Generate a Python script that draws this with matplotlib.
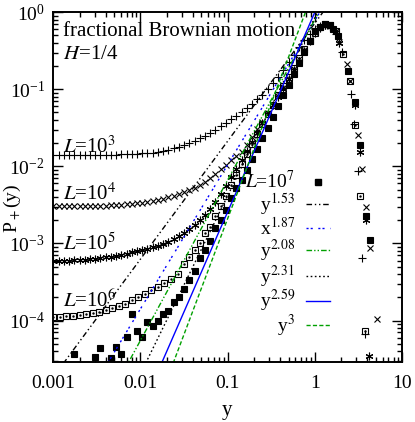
import numpy as np
import matplotlib
matplotlib.use('Agg')
import matplotlib.pyplot as plt
from matplotlib.lines import Line2D
from matplotlib.ticker import FixedLocator, FixedFormatter, LogLocator, LogFormatterMathtext, NullFormatter

plt.rcParams['font.family'] = ['Liberation Serif', 'DejaVu Serif']
plt.rcParams['mathtext.fontset'] = 'stix'

# ---------------- data ----------------
X_GRID = [0.001, 0.00115, 0.00132, 0.00151, 0.00174, 0.00200, 0.00229, 0.00263, 0.00302, 0.00347,
          0.00398, 0.00457, 0.00525, 0.00603, 0.00692, 0.00794, 0.00912, 0.0105, 0.0120, 0.0138,
          0.0158, 0.0182, 0.0209, 0.0240, 0.0275, 0.0316, 0.0363, 0.0417, 0.0479, 0.0550,
          0.0631, 0.0724, 0.0832, 0.0955, 0.110, 0.126, 0.145, 0.166, 0.191, 0.219,
          0.251, 0.288, 0.331, 0.380, 0.437, 0.501, 0.575, 0.661, 0.759, 0.871,
          1.0, 1.15, 1.32, 1.51, 1.74]

P_L3 = [0.0140, 0.0140, 0.0139, 0.0140, 0.0140, 0.0140, 0.0140, 0.0141, 0.0140, 0.0141,
        0.0141, 0.0142, 0.0142, 0.0143, 0.0144, 0.0145, 0.0146, 0.0147, 0.0149, 0.0151,
        0.0154, 0.0158, 0.0164, 0.0172, 0.0180, 0.0191, 0.0202, 0.0216, 0.0232, 0.0251,
        0.0272, 0.0299, 0.0331, 0.0367, 0.0407, 0.0457, 0.0513, 0.0575, 0.0646, 0.0741,
        0.0851, 0.100, 0.120, 0.145, 0.178, 0.224, 0.282, 0.355, 0.437, 0.525,
        0.603, 0.661, 0.692, 0.646, 0.525]
TAIL_X_L3 = [2.03, 2.59, 2.81, 3.15, 3.44, 3.76]
TAIL_P_L3 = [0.302, 0.0875, 0.0359, 0.00879, 6.50e-4, 6.65e-5]

P_L4 = [0.00302, 0.00302, 0.00302, 0.00302, 0.00302, 0.00302, 0.00302, 0.00302, 0.00302, 0.00305,
        0.00309, 0.00313, 0.00316, 0.00320, 0.00324, 0.00327, 0.00333, 0.00339, 0.00347, 0.00355,
        0.00367, 0.00380, 0.00398, 0.00417, 0.00442, 0.00468, 0.00495, 0.00531, 0.00575, 0.00631,
        0.00700, 0.00794, 0.00912, 0.0105, 0.0120, 0.0136, 0.0155, 0.0191, 0.0240, 0.0302,
        0.0380, 0.0490, 0.0631, 0.0813, 0.105, 0.138, 0.182, 0.245, 0.324, 0.437,
        0.562, 0.646, 0.692, 0.661, 0.562]
TAIL_X_L4 = [1.90, 2.31, 2.52, 3.15, 3.44, 3.83, 4.29, 5.12]
TAIL_P_L4 = [0.406, 0.213, 0.130, 0.0254, 0.00923, 0.00293, 8.75e-4, 1.04e-4]

P_L5 = [5.89e-4, 5.89e-4, 5.96e-4, 5.96e-4, 6.03e-4, 6.10e-4, 6.17e-4, 6.24e-4, 6.31e-4, 6.46e-4,
        6.61e-4, 6.76e-4, 6.92e-4, 7.16e-4, 7.41e-4, 7.67e-4, 7.94e-4, 8.22e-4, 8.51e-4, 8.91e-4,
        9.33e-4, 9.89e-4, 1.06e-3, 1.15e-3, 1.26e-3, 1.38e-3, 1.55e-3, 1.74e-3, 2.00e-3, 2.34e-3,
        2.82e-3, 3.47e-3, 4.37e-3, 5.62e-3, 7.24e-3, 9.33e-3, 0.0120, 0.0158, 0.0209, 0.0275,
        0.0363, 0.0479, 0.0617, 0.0794, 0.102, 0.135, 0.178, 0.234, 0.316, 0.417,
        0.537, 0.631, 0.676, 0.661, 0.550]
TAIL_X_L5 = [1.90, 2.88, 3.29, 3.85, 4.21]
TAIL_P_L5 = [0.398, 0.0618, 0.0155, 0.00203, 3.50e-5]

X_L6 = [0.001, 0.00119, 0.00141, 0.00168, 0.00200, 0.00237, 0.00282, 0.00335, 0.00398, 0.00473,
        0.00562, 0.00668, 0.00794, 0.00944, 0.0112, 0.0133, 0.0158, 0.0188, 0.0224, 0.0266,
        0.0316, 0.0363, 0.0417, 0.0479, 0.0550, 0.0631, 0.0724, 0.0832, 0.0955, 0.110,
        0.126, 0.145, 0.166, 0.191, 0.219, 0.251, 0.288, 0.331, 0.380, 0.437,
        0.501, 0.575, 0.661, 0.759, 0.871, 1.0, 1.15, 1.32, 1.51, 1.74,
        2.12, 2.52, 2.88, 3.29, 3.76]
P_L6 = [1.10e-4, 1.11e-4, 1.14e-4, 1.16e-4, 1.19e-4, 1.22e-4, 1.26e-4, 1.30e-4, 1.36e-4, 1.45e-4,
        1.55e-4, 1.66e-4, 1.84e-4, 2.04e-4, 2.24e-4, 2.48e-4, 2.75e-4, 3.05e-4, 3.47e-4, 4.07e-4,
        5.37e-4, 6.61e-4, 8.13e-4, 1.02e-3, 1.35e-3, 1.64e-3, 2.24e-3, 3.05e-3, 4.17e-3, 5.69e-3,
        7.76e-3, 0.0107, 0.0145, 0.0195, 0.0263, 0.0355, 0.0479, 0.0631, 0.0832, 0.110,
        0.145, 0.191, 0.251, 0.331, 0.427, 0.537, 0.646, 0.708, 0.692, 0.562,
        0.287, 0.130, 0.0341, 0.00419, 7.36e-5]

X_L7 = [0.00174, 0.00302, 0.00347, 0.00457, 0.00525, 0.00603, 0.00692, 0.00794, 0.00912, 0.0105,
        0.0120, 0.0138, 0.0158, 0.0182, 0.0209, 0.0240, 0.0275, 0.0316, 0.0363, 0.0417,
        0.0479, 0.0550, 0.0631, 0.0724, 0.0832, 0.0955, 0.110, 0.126, 0.145, 0.166,
        0.191, 0.219, 0.251, 0.288, 0.331, 0.380, 0.437, 0.501, 0.575, 0.661,
        0.759, 0.871, 1.0, 1.15, 1.32, 1.51, 1.62, 1.85, 2.42, 2.89,
        3.29, 3.86, 4.29]
P_L7 = [3.63e-5, 3.39e-5, 4.37e-5, 3.24e-5, 4.57e-5, 3.72e-5, 6.17e-5, 1.20e-4, 7.24e-5, 6.17e-5,
        9.55e-5, 8.51e-5, 1.00e-4, 1.20e-4, 1.35e-4, 1.74e-4, 2.00e-4, 2.57e-4, 3.39e-4, 4.37e-4,
        6.46e-4, 8.32e-4, 1.07e-3, 1.58e-3, 2.04e-3, 2.75e-3, 3.89e-3, 5.25e-3, 6.61e-3, 8.91e-3,
        0.0123, 0.0170, 0.0234, 0.0316, 0.0437, 0.0603, 0.0832, 0.115, 0.158, 0.219,
        0.302, 0.417, 0.562, 0.646, 0.700, 0.684, 0.603, 0.494, 0.175, 0.0684,
        0.0188, 0.00224, 0.00110]

# power laws  P = c * y^a
EXPONENTS = [1.53, 1.87, 2.08, 2.31, 2.59, 3.0]
COEFFS = [0.72, 0.78, 0.80, 0.85, 1.0, 2.1]
LINE_LABELS = [r'y$^{1.53}$', r'x$^{1.87}$', r'y$^{2.08}$', r'y$^{2.31}$', r'y$^{2.59}$', r'y$^{3}$']
LINE_COLORS = ['black', '#0000ff', '#00a000', 'black', '#0000ff', '#00a000']
LINE_DASHES = [(4, 2, 1, 2, 1, 2), (1.5, 1.5, 1.5, 4), (4, 1.5, 1, 1.5, 1, 1.5), (1.2, 1.8), None, (3, 1.6)]
LINE_X = [0.001, 10.0]

XTICKS = [0.001, 0.01, 0.1, 1, 10]
XTICK_LABELS = ['0.001', '0.01', '0.1', '1', '10']

# ---------------- figure ----------------
fig = plt.figure(figsize=(4.15, 4.22), dpi=100)
ax = fig.add_axes([53.3 / 415, 1 - 362 / 422, (402 - 53.3) / 415, (362 - 12.2) / 422])
ax.set_xscale('log')
ax.set_yscale('log')

mk = dict(color='black', linestyle='none', markeredgewidth=0.8)
ax.plot(X_GRID + TAIL_X_L3, P_L3 + TAIL_P_L3, marker='+', ms=6, **mk)
ax.plot(X_GRID + TAIL_X_L4, P_L4 + TAIL_P_L4, marker='x', ms=4.5, **mk)
ax.plot(X_GRID + TAIL_X_L5, P_L5 + TAIL_P_L5, marker=(6, 2, 0), ms=5.5, **mk)
ax.plot(X_L6, P_L6, marker='s', ms=5, mfc='none', **mk)
ax.plot(X_L6, P_L6, marker='.', ms=1.5, color='black', linestyle='none')
ax.plot(X_L7, P_L7, marker='s', ms=5, mfc='black', **mk)

handles = [Line2D([], [], marker='s', ms=5, color='black', linestyle='none')]
labels = [r'$L$=10$^7$']
lx = np.array(LINE_X)
for a, c, lab, col, dsh in zip(EXPONENTS, COEFFS, LINE_LABELS, LINE_COLORS, LINE_DASHES):
    ln, = ax.plot(lx, c * lx ** a, color=col, lw=1.0)
    if dsh is not None:
        ln.set_dashes(dsh)
    handles.append(ln)
    labels.append(lab)

ax.set_xlim(0.001, 10)
ax.set_ylim(2.9e-5, 1)

ax.xaxis.set_major_locator(FixedLocator(XTICKS))
ax.xaxis.set_major_formatter(FixedFormatter(XTICK_LABELS))
ax.xaxis.set_minor_locator(LogLocator(base=10, subs=np.arange(2, 10), numticks=20))
ax.xaxis.set_minor_formatter(NullFormatter())
ax.yaxis.set_major_locator(LogLocator(base=10, numticks=20))
ax.yaxis.set_major_formatter(LogFormatterMathtext())
ax.yaxis.set_minor_locator(LogLocator(base=10, subs=np.arange(2, 10), numticks=20))
ax.yaxis.set_minor_formatter(NullFormatter())

ax.tick_params(which='both', direction='in', top=True, right=True, width=1.0, labelsize=14)
ax.tick_params(which='major', length=7, pad=6)
ax.tick_params(axis='x', which='major', pad=9)
ax.tick_params(which='minor', length=3.5)
for s in ax.spines.values():
    s.set_linewidth(1.4)

ax.set_xlabel('y', fontsize=15, va='center')
ax.set_ylabel(r'P$_+$(y)', fontsize=14, va='center')
ax.xaxis.set_label_coords(0.497, -0.14)
ax.yaxis.set_label_coords(-0.116, 0.44)

def pxt(x, y, s):
    ax.annotate(s, xy=(x, 422 - y), xycoords='figure pixels', fontsize=15)
pxt(63, 36, 'fractional Brownian motion')
pxt(63, 59, r'$H$=1/4')
pxt(63, 153, r'$L$=10$^3$')
pxt(63, 200, r'$L$=10$^4$')
pxt(63, 250, r'$L$=10$^5$')
pxt(63, 307, r'$L$=10$^6$')

leg = ax.legend(handles, labels, loc='upper right', bbox_to_anchor=(0.7935, 0.5475),
                frameon=False, markerfirst=False, fontsize=14, handlelength=1.25,
                handletextpad=0.55, labelspacing=-0.05, borderpad=0, borderaxespad=0)

fig.savefig('out.png', dpi=100)
